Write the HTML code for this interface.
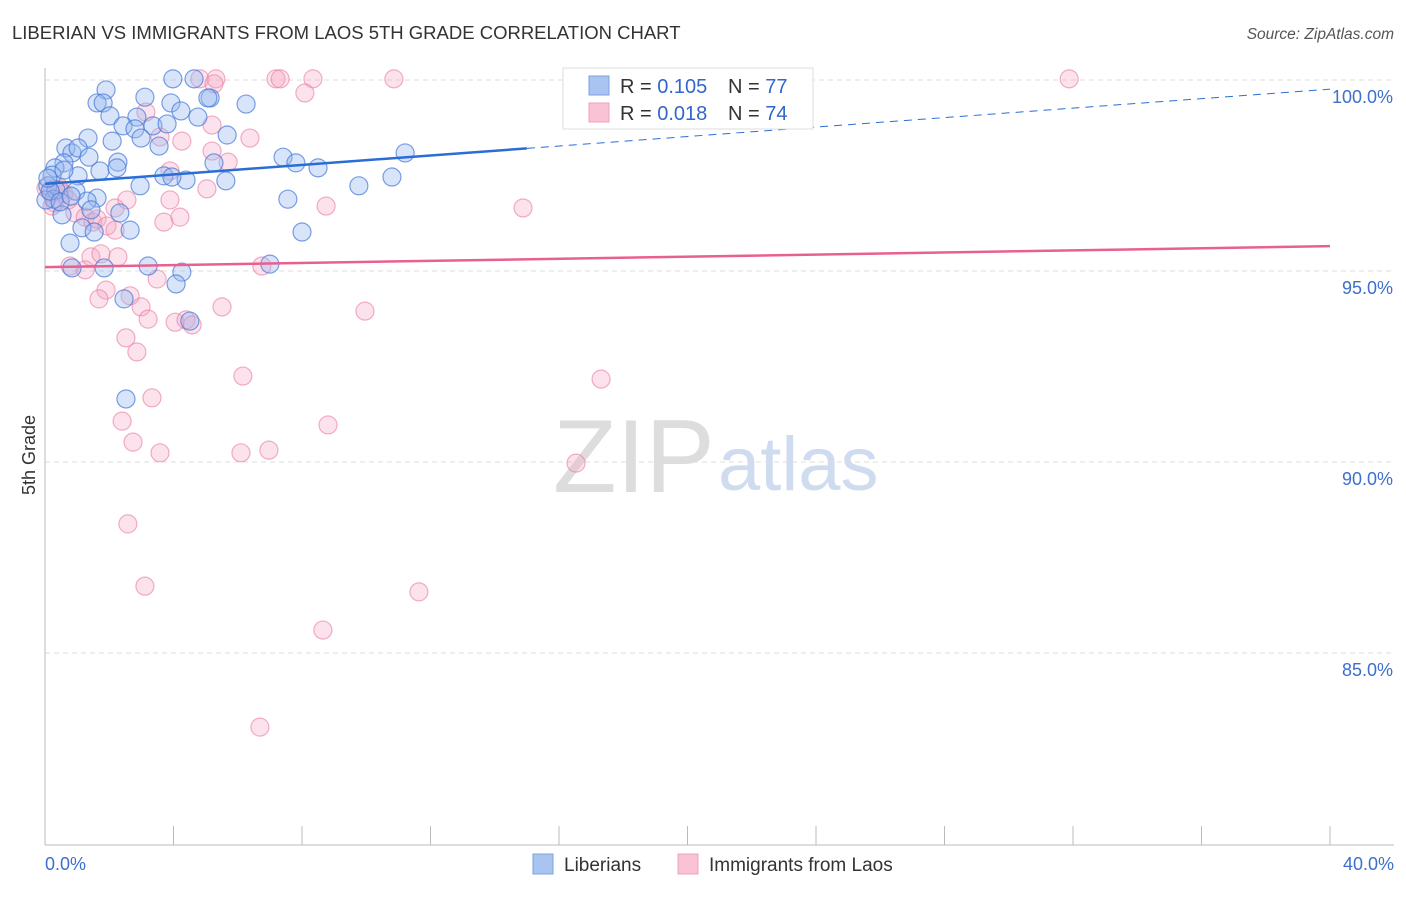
<!DOCTYPE html>
<html><head><meta charset="utf-8"><style>
body{margin:0;background:#fff;font-family:"Liberation Sans",sans-serif;}
svg text{font-family:"Liberation Sans",sans-serif;}
</style></head><body>
<svg id="chart" width="1406" height="892" xmlns="http://www.w3.org/2000/svg">
<text x="12" y="39" font-size="18.5" fill="#333">LIBERIAN VS IMMIGRANTS FROM LAOS 5TH GRADE CORRELATION CHART</text>
<text x="1394" y="39" font-size="15.5" fill="#555" text-anchor="end" font-style="italic">Source: ZipAtlas.com</text>
<text x="553" y="492" font-size="104" fill="#ddd" font-family="Liberation Serif">ZIP</text>
<text x="718" y="490" font-size="76" fill="#cfdcf0">atlas</text>
<text x="35" y="455" font-size="18" fill="#333" text-anchor="middle" transform="rotate(-90 35 455)">5th Grade</text>
<g id="grid"></g><g id="pts"></g><g id="trends"></g>
<g>
<rect x="563" y="68" width="250" height="61" fill="#fff" stroke="#ddd"/>
<rect x="589" y="76" width="20" height="19" fill="#a9c4f0" stroke="#7aa0e0"/>
<rect x="589" y="103" width="20" height="19" fill="#f9c3d5" stroke="#f0a0bc"/>
<text x="620" y="93" font-size="20" fill="#333">R = <tspan fill="#3366cc">0.105</tspan></text>
<text x="728" y="93" font-size="20" fill="#333">N = <tspan fill="#3366cc">77</tspan></text>
<text x="620" y="120" font-size="20" fill="#333">R = <tspan fill="#3366cc">0.018</tspan></text>
<text x="728" y="120" font-size="20" fill="#333">N = <tspan fill="#3366cc">74</tspan></text>
</g>
<g>
<rect x="533" y="854" width="20" height="20" fill="#a9c4f0" stroke="#7aa0e0"/>
<text x="564" y="871" font-size="19" fill="#333">Liberians</text>
<rect x="678" y="854" width="20" height="20" fill="#f9c3d5" stroke="#f0a0bc"/>
<text x="709" y="871" font-size="19" fill="#333">Immigrants from Laos</text>
</g>
</svg>
<script>
const yTicks=[100,95,90,85];
const yTickLabels=["100.0%","95.0%","90.0%","85.0%"];
const xEndLabels=["0.0%","40.0%"];
const blueX=[1.90,3.98,4.64,1.62,1.81,3.11,5.14,5.07,6.26,3.92,4.23,4.76,2.02,2.86,2.43,2.80,3.36,3.80,1.34,2.09,2.99,3.55,5.67,0.65,0.84,1.03,0.59,1.37,2.27,0.31,0.22,1.03,1.71,2.24,3.70,4.39,3.95,2.96,5.63,5.26,7.41,7.81,8.50,9.77,10.80,11.21,0.09,0.34,0.96,1.62,0.28,1.31,0.53,1.43,2.33,1.15,1.53,2.65,0.78,7.56,8.00,0.84,1.84,3.21,4.26,4.08,2.46,7.00,4.51,2.52,0.03,0.16,0.47,0.09,0.59,0.81];
const blueY=[99.74,100.03,100.03,99.40,99.40,99.55,99.53,99.53,99.37,99.40,99.19,99.03,99.06,99.03,98.80,98.72,98.80,98.85,98.48,98.40,98.48,98.27,98.56,98.22,98.09,98.22,97.83,97.98,97.85,97.70,97.51,97.49,97.62,97.70,97.49,97.38,97.46,97.23,97.36,97.83,97.98,97.83,97.70,97.23,97.46,98.09,97.23,97.12,97.09,96.91,96.88,96.83,96.47,96.60,96.52,96.13,96.02,96.07,95.73,96.88,96.02,95.08,95.08,95.13,94.97,94.66,94.27,95.18,93.69,91.65,96.86,97.09,96.81,97.43,97.64,96.96];
const pinkX=[4.82,5.32,7.19,7.32,8.34,10.86,31.88,5.26,8.09,3.14,3.58,4.26,6.38,5.20,5.70,3.89,5.04,0.03,0.40,0.19,0.59,0.31,0.93,1.25,1.49,1.62,1.93,2.18,2.55,3.89,4.20,3.70,8.75,14.88,0.78,1.25,1.43,1.74,2.27,6.75,3.49,1.90,1.68,2.65,2.99,3.21,4.05,4.39,4.58,5.51,9.96,2.52,2.86,6.16,17.31,3.33,2.40,2.74,3.58,6.10,6.97,8.81,16.53,2.58,3.11,11.64,8.65,6.69,0.22,0.47,0.72,2.18,5.20];
const pinkY=[100.03,100.03,100.03,100.03,100.03,100.03,100.03,99.90,99.66,99.16,98.51,98.40,98.48,98.14,97.85,97.62,97.15,97.17,97.23,97.04,97.02,96.78,96.52,96.41,96.28,96.36,96.18,96.65,96.86,96.86,96.41,96.28,96.70,96.65,95.13,95.03,95.37,95.45,95.37,95.13,94.79,94.50,94.27,94.35,94.06,93.74,93.66,93.72,93.59,94.06,93.95,93.25,92.88,92.25,92.17,91.68,91.07,90.52,90.24,90.24,90.31,90.97,89.97,88.38,86.75,86.60,85.60,83.06,96.70,97.12,96.86,96.07,98.82];
const blueTrend=[97.28,0.062];
const pinkTrend=[95.10,0.01375];
const blueSolidEnd=15;
const X=v=>45+v*32.125, Y=v=>80+(100-v)*38.2;
const NS="http://www.w3.org/2000/svg";
function mk(t,a,p){const e=document.createElementNS(NS,t);for(const k in a)e.setAttribute(k,a[k]);p.appendChild(e);return e;}
const grid=document.getElementById('grid'),svg=document.getElementById('chart');
yTicks.forEach((t,i)=>{
 const l=mk('line',{x1:45,x2:1394,y1:Y(t),y2:Y(t),stroke:'#ddd','stroke-dasharray':'5,4'},grid);
 
 
 const tx=mk('text',{x:1393,y:Y(t)+23,'font-size':18,fill:'#3d6fcc','text-anchor':'end'},grid);
 tx.textContent=yTickLabels[i];
 
 
});
const ax=mk('line',{x1:45,x2:45,y1:68,y2:845,stroke:'#bbb'},grid);


const bx=mk('line',{x1:45,x2:1394,y1:845,y2:845,stroke:'#bbb'},grid);


for(let i=0;i<=10;i++){const t=mk('line',{x1:X(i*4),x2:X(i*4),y1:826,y2:845,stroke:'#bbb'},grid);
 
 }
[[0,'start',45],[40,'end',1394]].forEach((d,i)=>{const t=mk('text',{x:d[2],y:870,'font-size':18,fill:'#3d6fcc','text-anchor':d[1]},grid);t.textContent=xEndLabels[i];
 
 });
const pts=document.getElementById('pts');
pinkX.forEach((x,i)=>{const c=mk('circle',{cx:X(x),cy:Y(pinkY[i]),r:9,fill:'rgba(245,165,195,0.32)',stroke:'rgba(235,130,165,0.65)','stroke-width':1.2},pts);
 
 });
blueX.forEach((x,i)=>{const c=mk('circle',{cx:X(x),cy:Y(blueY[i]),r:9,fill:'rgba(150,185,240,0.38)',stroke:'rgba(70,120,215,0.7)','stroke-width':1.2},pts);
 
 });
const tr=document.getElementById('trends');
const f=(t,x)=>t[0]+t[1]*x;
const b1=mk('line',{x1:X(0),y1:Y(f(blueTrend,0)),x2:X(blueSolidEnd),y2:Y(f(blueTrend,blueSolidEnd)),stroke:'#2a6dd6','stroke-width':2.5},tr);


const b2=mk('line',{x1:X(blueSolidEnd),y1:Y(f(blueTrend,blueSolidEnd)),x2:X(40),y2:Y(f(blueTrend,40)),stroke:'#2a6dd6','stroke-width':1,'stroke-dasharray':'8,6'},tr);


const p1=mk('line',{x1:X(0),y1:Y(f(pinkTrend,0)),x2:X(40),y2:Y(f(pinkTrend,40)),stroke:'#e8608f','stroke-width':2.5},tr);


</script>
</body></html>
